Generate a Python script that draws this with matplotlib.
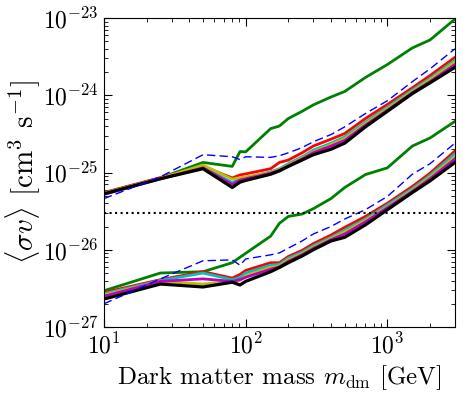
import matplotlib
matplotlib.use("Agg")
import matplotlib.pyplot as plt

plt.rcParams['font.family'] = 'serif'
plt.rcParams['font.serif'] = ['cmr10', 'DejaVu Serif']
plt.rcParams['mathtext.fontset'] = 'cm'
plt.rcParams['axes.formatter.use_mathtext'] = True
plt.rcParams['axes.unicode_minus'] = False

mass = [10, 25, 50, 80.4, 91.2, 100, 150, 173, 200, 250, 300, 400, 500, 700, 1000, 1500, 2000, 3000]

# upper band
up_black = [5.3e-26, 8.3e-26, 1.12e-25, 6.4e-26, 7.5e-26, 7.9e-26, 9.5e-26, 1.05e-25, 1.2e-25, 1.45e-25, 1.7e-25, 2.0e-25, 2.4e-25, 3.9e-25, 6.2e-25, 1.05e-24, 1.45e-24, 2.3e-24]
up_red = [5.5e-26, 8.6e-26, 1.2e-25, 8.5e-26, 9.3e-26, 9.6e-26, 1.12e-25, 1.35e-25, 1.45e-25, 1.8e-25, 2.2e-25, 2.7e-25, 3.2e-25, 5.0e-25, 7.6e-25, 1.25e-24, 1.8e-24, 3.1e-24]
up_cyan = [5.4e-26, 8.4e-26, 1.18e-25, 7.4e-26, 8.3e-26, 8.6e-26, 1.02e-25, 1.12e-25, 1.3e-25, 1.6e-25, 1.95e-25, 2.4e-25, 2.9e-25, 4.5e-25, 7.0e-25, 1.17e-24, 1.65e-24, 2.85e-24]
up_yellow = [5.35e-26, 8.4e-26, 1.25e-25, 8.2e-26, 8.6e-26, 8.8e-26, 1.0e-25, 1.1e-25, 1.25e-25, 1.55e-25, 1.85e-25, 2.3e-25, 2.75e-25, 4.3e-25, 6.7e-25, 1.12e-24, 1.58e-24, 2.7e-24]
up_magenta = [5.2e-26, 8.3e-26, 1.15e-25, 7.0e-26, 8.0e-26, 8.3e-26, 9.8e-26, 1.07e-25, 1.22e-25, 1.5e-25, 1.8e-25, 2.2e-25, 2.6e-25, 4.1e-25, 6.4e-25, 1.08e-24, 1.5e-24, 2.5e-24]
up_green = [5.4e-26, 8.5e-26, 1.35e-25, 1.2e-25, 1.87e-25, 1.85e-25, 3.7e-25, 4.0e-25, 5.0e-25, 6.2e-25, 7.5e-25, 9.5e-25, 1.12e-24, 1.7e-24, 2.5e-24, 4.1e-24, 5.2e-24, 9.7e-24]
up_blue = [4.6e-26, 8.8e-26, 1.7e-25, 1.6e-25, 1.47e-25, 1.6e-25, 1.57e-25, 1.65e-25, 1.8e-25, 2.1e-25, 2.5e-25, 3.1e-25, 3.9e-25, 5.8e-25, 8.5e-25, 1.5e-24, 2.2e-24, 4.0e-24]

# lower band
lo_black = [2.3e-27, 3.6e-27, 3.3e-27, 3.8e-27, 3.5e-27, 3.9e-27, 5.2e-27, 5.9e-27, 6.8e-27, 8.3e-27, 1.0e-26, 1.3e-26, 1.45e-26, 2.1e-26, 3.3e-26, 5.5e-26, 7.8e-26, 1.35e-25]
lo_red = [2.8e-27, 4.1e-27, 5.2e-27, 4.3e-27, 4.8e-27, 5.4e-27, 6.8e-27, 6.8e-27, 8.2e-27, 9.8e-27, 1.2e-26, 1.55e-26, 1.95e-26, 2.7e-26, 4.0e-26, 6.6e-26, 9.8e-26, 1.9e-25]
lo_cyan = [2.7e-27, 4.0e-27, 5.0e-27, 4.1e-27, 4.4e-27, 5.0e-27, 6.3e-27, 6.5e-27, 7.8e-27, 9.3e-27, 1.13e-26, 1.45e-26, 1.8e-26, 2.5e-26, 3.8e-26, 6.2e-26, 9.2e-26, 1.75e-25]
lo_yellow = [2.6e-27, 3.9e-27, 3.6e-27, 3.9e-27, 4.0e-27, 4.6e-27, 5.9e-27, 6.2e-27, 7.4e-27, 8.9e-27, 1.08e-26, 1.4e-26, 1.7e-26, 2.4e-26, 3.6e-26, 5.9e-26, 8.7e-26, 1.6e-25]
lo_magenta = [2.5e-27, 3.9e-27, 4.2e-27, 3.9e-27, 4.1e-27, 4.4e-27, 5.6e-27, 6.0e-27, 7.1e-27, 8.6e-27, 1.04e-26, 1.35e-26, 1.6e-26, 2.3e-26, 3.5e-26, 5.7e-26, 8.3e-26, 1.5e-25]
lo_green = [2.95e-27, 5.0e-27, 5.2e-27, 6.8e-27, 8.0e-27, 9.0e-27, 1.5e-26, 2.2e-26, 2.7e-26, 2.9e-26, 3.4e-26, 4.6e-26, 6.4e-26, 9.4e-26, 1.15e-25, 2.2e-25, 2.8e-25, 4.6e-25]
lo_blue = [2.0e-27, 4.2e-27, 7.2e-27, 7.4e-27, 6.3e-27, 7.6e-27, 8.6e-27, 9.1e-27, 1.05e-26, 1.3e-26, 1.6e-26, 2.0e-26, 2.5e-26, 3.3e-26, 4.9e-26, 9.5e-26, 1.3e-25, 2.4e-25]

thermal = 3e-26

fig = plt.figure(figsize=(4.63, 3.96), dpi=100)
ax = fig.add_axes([0.2246, 0.1742, 0.7581, 0.7803])

styles = [
    ('green', up_green, lo_green, '-', 2.0),
    ('red', up_red, lo_red, '-', 2.0),
    ('c', up_cyan, lo_cyan, '-', 2.0),
    ('y', up_yellow, lo_yellow, '-', 2.0),
    ('m', up_magenta, lo_magenta, '-', 2.0),
    ('k', up_black, lo_black, '-', 2.3),
]
for col, up, lo, ls, lw in styles:
    ax.plot(mass, up, color=col, ls=ls, lw=lw)
    ax.plot(mass, lo, color=col, ls=ls, lw=lw)
ax.plot(mass, up_blue, color='b', ls=(0, (6, 3)), lw=1.0)
ax.plot(mass, lo_blue, color='b', ls=(0, (6, 3)), lw=1.0)

ax.axhline(thermal, color='k', ls=':', lw=1.5)

ax.set_xscale('log')
ax.set_yscale('log')
ax.set_xlim(10, 3000)
ax.set_ylim(1e-27, 1e-23)
ax.tick_params(which='both', direction='in', top=True, right=True, labelsize=17)
ax.tick_params(which='major', length=6, width=0.8, pad=4)
ax.tick_params(which='minor', length=3, width=0.6)
ax.set_xlabel(r'Dark matter mass $m_{\rm dm}$ [GeV]', fontsize=18, labelpad=4)
ax.set_ylabel(r'$\langle\sigma v\rangle$ [cm$^3$ s$^{-1}$]', fontsize=21, labelpad=0)
ax.yaxis.set_label_coords(-0.175, 0.5)

fig.savefig('out.png', dpi=100)
